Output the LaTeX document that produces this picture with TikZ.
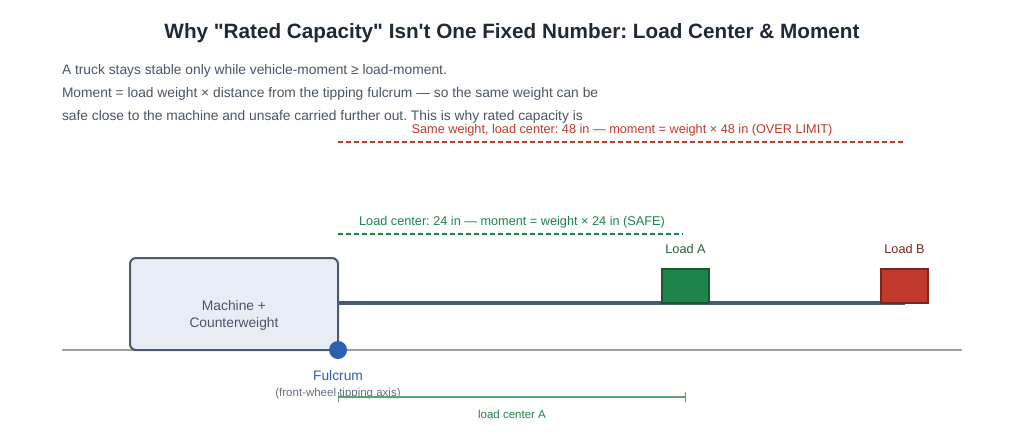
\documentclass[tikz,border=0pt]{standalone}
\usepackage{fontspec}
\setmainfont{Liberation Sans}[Ligatures=TeXOff]
\frenchspacing
\begin{document}
\begin{tikzpicture}[x=1pt,y=-1pt,
  every node/.style={inner sep=0pt,outer sep=0pt},
  desc/.style={anchor=west,text=descc,font=\fontsize{13.8}{16}\selectfont},
  small/.style={font=\fontsize{12.7}{15}\selectfont},
  tiny/.style={font=\fontsize{11.5}{13}\selectfont}]
\definecolor{titlec}{HTML}{1F2937}
\definecolor{descc}{HTML}{4A5568}
\definecolor{redc}{HTML}{C0392B}
\definecolor{redd}{HTML}{7B241C}
\definecolor{greenc}{HTML}{1E8449}
\definecolor{greend}{HTML}{145A32}
\definecolor{labA}{HTML}{2E5E3E}
\definecolor{forkc}{HTML}{4A5A72}
\definecolor{machf}{HTML}{E8ECF4}
\definecolor{blue1}{HTML}{2B5FB4}
\definecolor{groundc}{HTML}{9E9E9E}
\useasboundingbox (0,0) rectangle (1024,439);
\fill[white] (0,0) rectangle (1024,439);
% title
\node[font=\fontsize{20.7}{24}\selectfont\bfseries,text=titlec] (title) at (512,33.5) {Why "Rated Capacity" Isn't One Fixed Number: Load Center \& Moment};
% description
\node[desc] (d1) at (62,70.5) {A truck stays stable only while vehicle-moment ≥ load-moment.};
\node[desc] (d2) at (62,93.5) {Moment = load weight × distance from the tipping fulcrum — so the same weight can be};
\node[desc] (d3) at (62,116.5) {safe close to the machine and unsafe carried further out. This is why rated capacity is};
% over limit
\node[small,text=redc] (redt) at (622,130.5) {Same weight, load center: 48 in — moment = weight × 48 in (OVER LIMIT)};
\coordinate (r1) at (338,142); \coordinate (r2) at (903,142);
\draw[redc,line width=1.5pt,dash pattern=on 5pt off 3pt] (r1) -- (r2);
% safe
\node[small,text=greenc] (grt) at (512,222.5) {Load center: 24 in — moment = weight × 24 in (SAFE)};
\coordinate (g1) at (338,234); \coordinate (g2) at (683,234);
\draw[greenc,line width=1.5pt,dash pattern=on 5pt off 3pt] (g1) -- (g2);
% ground
\coordinate (gl) at (62,350); \coordinate (gr) at (962,350);
\draw[groundc,line width=2pt] (gl) -- (gr);
% fork
\coordinate (f1) at (338,303); \coordinate (f2) at (905,303);
\draw[forkc,line width=4pt] (f1) -- (f2);
% machine
\node[draw=forkc,fill=machf,line width=2pt,rounded corners=6pt,minimum width=208pt,minimum height=92pt] (mach) at (234,304) {};
\node[align=center,text=descc,font=\fontsize{13.8}{17}\selectfont] (macht) at (234,315.5) {Machine +\\Counterweight};
% loads
\node[draw=greend,fill=greenc,line width=1.2pt,minimum width=47pt,minimum height=34pt] (loadA) at (685.5,286) {};
\node[draw=redd,fill=redc,line width=1.2pt,minimum width=47pt,minimum height=34pt] (loadB) at (904.5,286) {};
\node[small,text=labA] (labA) at (685.5,249) {Load A};
\node[small,text=redd] (labB) at (904.5,249) {Load B};
% fulcrum
\node[circle,fill=blue1,minimum size=18pt] (fulc) at (338,350) {};
\node[font=\fontsize{13.8}{16}\selectfont,text=blue1] (fulct) at (338,376) {Fulcrum};
\node[tiny,text=descc!85] (fulcs) at (338,394) {(front-wheel tipping axis)};
% load center A dimension
\coordinate (lc1) at (338,397); \coordinate (lc2) at (685,397);
\draw[greenc!75,line width=1.2pt] (lc1) -- (lc2);
\draw[greenc!75,line width=1pt] ([yshift=-5pt]lc1) -- ([yshift=5pt]lc1);
\draw[greenc!75,line width=1pt] ([yshift=-5pt]lc2) -- ([yshift=5pt]lc2);
\node[tiny,text=greenc] (lct) at (512,414) {load center A};
\end{tikzpicture}
\end{document}
